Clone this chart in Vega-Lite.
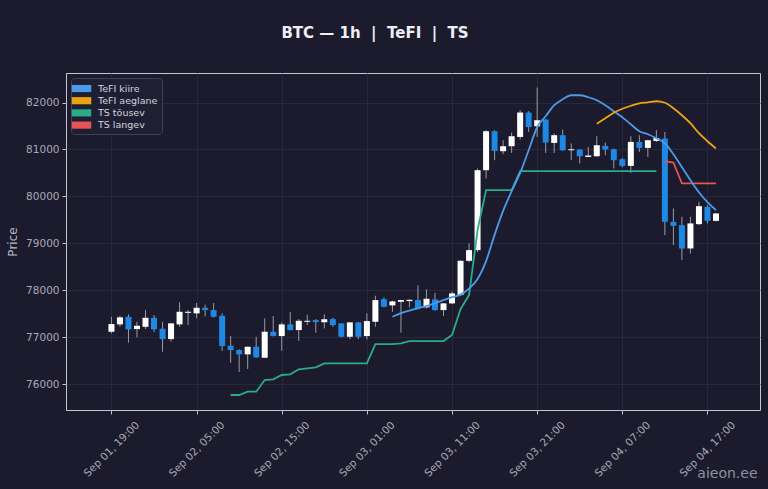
{
  "$schema": "https://vega.github.io/schema/vega-lite/v6.json",
  "autosize": "none",
  "width": 694,
  "height": 337,
  "padding": {"left": 66, "top": 73, "right": 8, "bottom": 79},
  "background": "#1b1b2d",
  "title": {
    "text": "BTC — 1h \u00a0|\u00a0 TeFI \u00a0|\u00a0 TS",
    "font": "DejaVu Sans",
    "fontSize": 15,
    "fontWeight": "bold",
    "color": "#eeeef4",
    "anchor": "middle",
    "dx": -38,
    "offset": 32
  },
  "config": {
    "font": "DejaVu Sans",
    "view": {"stroke": "#c4c4d2", "strokeWidth": 1, "fill": "#1b1b2d"},
    "axis": {
      "domain": false,
      "grid": true,
      "gridColor": "#2a2c40",
      "gridWidth": 0.8,
      "tickColor": "#c4c4d2",
      "tickSize": 4,
      "labelColor": "#a9a9b6",
      "labelFontSize": 10.5,
      "labelFont": "DejaVu Sans",
      "titleFont": "DejaVu Sans"
    },
    "legend": {
      "fillColor": "#1e1f33",
      "strokeColor": "#3f4152",
      "cornerRadius": 3,
      "padding": 4,
      "labelColor": "#d4d4dc",
      "labelFontSize": 9.5,
      "labelFont": "DejaVu Sans",
      "labelOffset": 10,
      "symbolType": "M-1.5,-0.55H1.5V0.55H-1.5Z",
      "symbolSize": 169,
      "symbolStrokeWidth": 0,
      "rowPadding": 1.2
    }
  },
  "datasets": {
    "candles": [
      {"t": "2025-09-01T19:00:00Z", "open": 77114, "high": 77433, "low": 77080, "close": 77278},
      {"t": "2025-09-01T20:00:00Z", "open": 77271, "high": 77455, "low": 77220, "close": 77421},
      {"t": "2025-09-01T21:00:00Z", "open": 77433, "high": 77484, "low": 76880, "close": 77165},
      {"t": "2025-09-01T22:00:00Z", "open": 77171, "high": 77327, "low": 76995, "close": 77242},
      {"t": "2025-09-01T23:00:00Z", "open": 77220, "high": 77576, "low": 77171, "close": 77412},
      {"t": "2025-09-02T00:00:00Z", "open": 77412, "high": 77470, "low": 77107, "close": 77165},
      {"t": "2025-09-02T01:00:00Z", "open": 77178, "high": 77327, "low": 76688, "close": 76958},
      {"t": "2025-09-02T02:00:00Z", "open": 76958, "high": 77300, "low": 76901, "close": 77293},
      {"t": "2025-09-02T03:00:00Z", "open": 77271, "high": 77740, "low": 77220, "close": 77540},
      {"t": "2025-09-02T04:00:00Z", "open": 77518, "high": 77576, "low": 77256, "close": 77540},
      {"t": "2025-09-02T05:00:00Z", "open": 77506, "high": 77725, "low": 77399, "close": 77625},
      {"t": "2025-09-02T06:00:00Z", "open": 77625, "high": 77689, "low": 77442, "close": 77576},
      {"t": "2025-09-02T07:00:00Z", "open": 77576, "high": 77725, "low": 77420, "close": 77433},
      {"t": "2025-09-02T08:00:00Z", "open": 77455, "high": 77506, "low": 76709, "close": 76809},
      {"t": "2025-09-02T09:00:00Z", "open": 76816, "high": 77022, "low": 76453, "close": 76724},
      {"t": "2025-09-02T10:00:00Z", "open": 76724, "high": 76740, "low": 76255, "close": 76632},
      {"t": "2025-09-02T11:00:00Z", "open": 76632, "high": 76800, "low": 76319, "close": 76794},
      {"t": "2025-09-02T12:00:00Z", "open": 76794, "high": 77007, "low": 76560, "close": 76568},
      {"t": "2025-09-02T13:00:00Z", "open": 76560, "high": 77399, "low": 76555, "close": 77114},
      {"t": "2025-09-02T14:00:00Z", "open": 77114, "high": 77448, "low": 77015, "close": 77022},
      {"t": "2025-09-02T15:00:00Z", "open": 77022, "high": 77314, "low": 76709, "close": 77271},
      {"t": "2025-09-02T16:00:00Z", "open": 77271, "high": 77533, "low": 77145, "close": 77150},
      {"t": "2025-09-02T17:00:00Z", "open": 77150, "high": 77384, "low": 76922, "close": 77348},
      {"t": "2025-09-02T18:00:00Z", "open": 77327, "high": 77476, "low": 77256, "close": 77348},
      {"t": "2025-09-02T19:00:00Z", "open": 77363, "high": 77384, "low": 77092, "close": 77320},
      {"t": "2025-09-02T20:00:00Z", "open": 77314, "high": 77484, "low": 77186, "close": 77378},
      {"t": "2025-09-02T21:00:00Z", "open": 77384, "high": 77412, "low": 77220, "close": 77256},
      {"t": "2025-09-02T22:00:00Z", "open": 77293, "high": 77300, "low": 76995, "close": 77007},
      {"t": "2025-09-02T23:00:00Z", "open": 77007, "high": 77320, "low": 76958, "close": 77314},
      {"t": "2025-09-03T00:00:00Z", "open": 77314, "high": 77320, "low": 76958, "close": 77007},
      {"t": "2025-09-03T01:00:00Z", "open": 77022, "high": 77506, "low": 76952, "close": 77342},
      {"t": "2025-09-03T02:00:00Z", "open": 77327, "high": 77881, "low": 77220, "close": 77789},
      {"t": "2025-09-03T03:00:00Z", "open": 77810, "high": 77847, "low": 77634, "close": 77646},
      {"t": "2025-09-03T04:00:00Z", "open": 77676, "high": 77774, "low": 77540, "close": 77761},
      {"t": "2025-09-03T05:00:00Z", "open": 77753, "high": 77795, "low": 77092, "close": 77789},
      {"t": "2025-09-03T06:00:00Z", "open": 77768, "high": 77804, "low": 77634, "close": 77795},
      {"t": "2025-09-03T07:00:00Z", "open": 77789, "high": 78102, "low": 77591, "close": 77612},
      {"t": "2025-09-03T08:00:00Z", "open": 77634, "high": 78017, "low": 77612, "close": 77817},
      {"t": "2025-09-03T09:00:00Z", "open": 77804, "high": 77944, "low": 77561, "close": 77576},
      {"t": "2025-09-03T10:00:00Z", "open": 77576, "high": 77725, "low": 77448, "close": 77719},
      {"t": "2025-09-03T11:00:00Z", "open": 77719, "high": 77974, "low": 77704, "close": 77932},
      {"t": "2025-09-03T12:00:00Z", "open": 77896, "high": 78640, "low": 77874, "close": 78626},
      {"t": "2025-09-03T13:00:00Z", "open": 78626, "high": 78997, "low": 78598, "close": 78854},
      {"t": "2025-09-03T14:00:00Z", "open": 78854, "high": 80594, "low": 78811, "close": 80558},
      {"t": "2025-09-03T15:00:00Z", "open": 80558, "high": 81410, "low": 80381, "close": 81389},
      {"t": "2025-09-03T16:00:00Z", "open": 81389, "high": 81410, "low": 80771, "close": 80969},
      {"t": "2025-09-03T17:00:00Z", "open": 80963, "high": 81197, "low": 80899, "close": 81069},
      {"t": "2025-09-03T18:00:00Z", "open": 81069, "high": 81361, "low": 80926, "close": 81282},
      {"t": "2025-09-03T19:00:00Z", "open": 81267, "high": 81836, "low": 81212, "close": 81787},
      {"t": "2025-09-03T20:00:00Z", "open": 81787, "high": 81815, "low": 81374, "close": 81480},
      {"t": "2025-09-03T21:00:00Z", "open": 81495, "high": 82320, "low": 81267, "close": 81623},
      {"t": "2025-09-03T22:00:00Z", "open": 81638, "high": 81645, "low": 80926, "close": 81148},
      {"t": "2025-09-03T23:00:00Z", "open": 81140, "high": 81340, "low": 80926, "close": 81304},
      {"t": "2025-09-04T00:00:00Z", "open": 81304, "high": 81425, "low": 80969, "close": 80984},
      {"t": "2025-09-04T01:00:00Z", "open": 80984, "high": 81127, "low": 80771, "close": 81005},
      {"t": "2025-09-04T02:00:00Z", "open": 80999, "high": 81005, "low": 80701, "close": 80856},
      {"t": "2025-09-04T03:00:00Z", "open": 80841, "high": 81054, "low": 80835, "close": 80871},
      {"t": "2025-09-04T04:00:00Z", "open": 80856, "high": 81282, "low": 80841, "close": 81090},
      {"t": "2025-09-04T05:00:00Z", "open": 81076, "high": 81148, "low": 80877, "close": 80999},
      {"t": "2025-09-04T06:00:00Z", "open": 81005, "high": 81020, "low": 80594, "close": 80771},
      {"t": "2025-09-04T07:00:00Z", "open": 80792, "high": 80820, "low": 80622, "close": 80650},
      {"t": "2025-09-04T08:00:00Z", "open": 80650, "high": 81282, "low": 80500, "close": 81161},
      {"t": "2025-09-04T09:00:00Z", "open": 81161, "high": 81304, "low": 80948, "close": 81033},
      {"t": "2025-09-04T10:00:00Z", "open": 81033, "high": 81205, "low": 80841, "close": 81197},
      {"t": "2025-09-04T11:00:00Z", "open": 81182, "high": 81410, "low": 81161, "close": 81246},
      {"t": "2025-09-04T12:00:00Z", "open": 81233, "high": 81374, "low": 79174, "close": 79457},
      {"t": "2025-09-04T13:00:00Z", "open": 79457, "high": 79742, "low": 78961, "close": 79372},
      {"t": "2025-09-04T14:00:00Z", "open": 79387, "high": 79563, "low": 78641, "close": 78890},
      {"t": "2025-09-04T15:00:00Z", "open": 78890, "high": 79563, "low": 78784, "close": 79423},
      {"t": "2025-09-04T16:00:00Z", "open": 79408, "high": 79883, "low": 79387, "close": 79791},
      {"t": "2025-09-04T17:00:00Z", "open": 79776, "high": 79812, "low": 79423, "close": 79478},
      {"t": "2025-09-04T18:00:00Z", "open": 79478, "high": 79648, "low": 79465, "close": 79636}
    ],
    "lines": [
      {"t": "2025-09-03T04:00:00Z", "s": "TeFI kiire", "v": 77433},
      {"t": "2025-09-03T05:00:00Z", "s": "TeFI kiire", "v": 77512},
      {"t": "2025-09-03T06:00:00Z", "s": "TeFI kiire", "v": 77565},
      {"t": "2025-09-03T07:00:00Z", "s": "TeFI kiire", "v": 77619},
      {"t": "2025-09-03T08:00:00Z", "s": "TeFI kiire", "v": 77661},
      {"t": "2025-09-03T09:00:00Z", "s": "TeFI kiire", "v": 77725},
      {"t": "2025-09-03T10:00:00Z", "s": "TeFI kiire", "v": 77789},
      {"t": "2025-09-03T11:00:00Z", "s": "TeFI kiire", "v": 77853},
      {"t": "2025-09-03T12:00:00Z", "s": "TeFI kiire", "v": 77906},
      {"t": "2025-09-03T13:00:00Z", "s": "TeFI kiire", "v": 78034},
      {"t": "2025-09-03T14:00:00Z", "s": "TeFI kiire", "v": 78240},
      {"t": "2025-09-03T15:00:00Z", "s": "TeFI kiire", "v": 78620},
      {"t": "2025-09-03T16:00:00Z", "s": "TeFI kiire", "v": 79180},
      {"t": "2025-09-03T17:00:00Z", "s": "TeFI kiire", "v": 79690},
      {"t": "2025-09-03T18:00:00Z", "s": "TeFI kiire", "v": 80110},
      {"t": "2025-09-03T19:00:00Z", "s": "TeFI kiire", "v": 80500},
      {"t": "2025-09-03T20:00:00Z", "s": "TeFI kiire", "v": 80984},
      {"t": "2025-09-03T21:00:00Z", "s": "TeFI kiire", "v": 81474},
      {"t": "2025-09-03T22:00:00Z", "s": "TeFI kiire", "v": 81708},
      {"t": "2025-09-03T23:00:00Z", "s": "TeFI kiire", "v": 81943},
      {"t": "2025-09-04T00:00:00Z", "s": "TeFI kiire", "v": 82070},
      {"t": "2025-09-04T01:00:00Z", "s": "TeFI kiire", "v": 82156},
      {"t": "2025-09-04T02:00:00Z", "s": "TeFI kiire", "v": 82156},
      {"t": "2025-09-04T03:00:00Z", "s": "TeFI kiire", "v": 82113},
      {"t": "2025-09-04T04:00:00Z", "s": "TeFI kiire", "v": 82049},
      {"t": "2025-09-04T05:00:00Z", "s": "TeFI kiire", "v": 81943},
      {"t": "2025-09-04T06:00:00Z", "s": "TeFI kiire", "v": 81815},
      {"t": "2025-09-04T07:00:00Z", "s": "TeFI kiire", "v": 81687},
      {"t": "2025-09-04T08:00:00Z", "s": "TeFI kiire", "v": 81538},
      {"t": "2025-09-04T09:00:00Z", "s": "TeFI kiire", "v": 81389},
      {"t": "2025-09-04T10:00:00Z", "s": "TeFI kiire", "v": 81325},
      {"t": "2025-09-04T11:00:00Z", "s": "TeFI kiire", "v": 81240},
      {"t": "2025-09-04T12:00:00Z", "s": "TeFI kiire", "v": 81133},
      {"t": "2025-09-04T13:00:00Z", "s": "TeFI kiire", "v": 80899},
      {"t": "2025-09-04T14:00:00Z", "s": "TeFI kiire", "v": 80622},
      {"t": "2025-09-04T15:00:00Z", "s": "TeFI kiire", "v": 80345},
      {"t": "2025-09-04T16:00:00Z", "s": "TeFI kiire", "v": 80089},
      {"t": "2025-09-04T17:00:00Z", "s": "TeFI kiire", "v": 79876},
      {"t": "2025-09-04T18:00:00Z", "s": "TeFI kiire", "v": 79706},
      {"t": "2025-09-04T04:00:00Z", "s": "TeFI aeglane", "v": 81548},
      {"t": "2025-09-04T05:00:00Z", "s": "TeFI aeglane", "v": 81666},
      {"t": "2025-09-04T06:00:00Z", "s": "TeFI aeglane", "v": 81783},
      {"t": "2025-09-04T07:00:00Z", "s": "TeFI aeglane", "v": 81868},
      {"t": "2025-09-04T08:00:00Z", "s": "TeFI aeglane", "v": 81932},
      {"t": "2025-09-04T09:00:00Z", "s": "TeFI aeglane", "v": 81985},
      {"t": "2025-09-04T10:00:00Z", "s": "TeFI aeglane", "v": 82006},
      {"t": "2025-09-04T11:00:00Z", "s": "TeFI aeglane", "v": 82028},
      {"t": "2025-09-04T12:00:00Z", "s": "TeFI aeglane", "v": 81996},
      {"t": "2025-09-04T13:00:00Z", "s": "TeFI aeglane", "v": 81879},
      {"t": "2025-09-04T14:00:00Z", "s": "TeFI aeglane", "v": 81730},
      {"t": "2025-09-04T15:00:00Z", "s": "TeFI aeglane", "v": 81559},
      {"t": "2025-09-04T16:00:00Z", "s": "TeFI aeglane", "v": 81346},
      {"t": "2025-09-04T17:00:00Z", "s": "TeFI aeglane", "v": 81176},
      {"t": "2025-09-04T18:00:00Z", "s": "TeFI aeglane", "v": 81020},
      {"t": "2025-09-02T09:00:00Z", "s": "TS tõusev", "v": 75766},
      {"t": "2025-09-02T10:00:00Z", "s": "TS tõusev", "v": 75766},
      {"t": "2025-09-02T11:00:00Z", "s": "TS tõusev", "v": 75836},
      {"t": "2025-09-02T12:00:00Z", "s": "TS tõusev", "v": 75836},
      {"t": "2025-09-02T13:00:00Z", "s": "TS tõusev", "v": 76085},
      {"t": "2025-09-02T14:00:00Z", "s": "TS tõusev", "v": 76100},
      {"t": "2025-09-02T15:00:00Z", "s": "TS tõusev", "v": 76192},
      {"t": "2025-09-02T16:00:00Z", "s": "TS tõusev", "v": 76206},
      {"t": "2025-09-02T17:00:00Z", "s": "TS tõusev", "v": 76313},
      {"t": "2025-09-02T18:00:00Z", "s": "TS tõusev", "v": 76334},
      {"t": "2025-09-02T19:00:00Z", "s": "TS tõusev", "v": 76356},
      {"t": "2025-09-02T20:00:00Z", "s": "TS tõusev", "v": 76441},
      {"t": "2025-09-02T21:00:00Z", "s": "TS tõusev", "v": 76441},
      {"t": "2025-09-02T22:00:00Z", "s": "TS tõusev", "v": 76441},
      {"t": "2025-09-02T23:00:00Z", "s": "TS tõusev", "v": 76441},
      {"t": "2025-09-03T00:00:00Z", "s": "TS tõusev", "v": 76441},
      {"t": "2025-09-03T01:00:00Z", "s": "TS tõusev", "v": 76441},
      {"t": "2025-09-03T02:00:00Z", "s": "TS tõusev", "v": 76852},
      {"t": "2025-09-03T03:00:00Z", "s": "TS tõusev", "v": 76852},
      {"t": "2025-09-03T04:00:00Z", "s": "TS tõusev", "v": 76852},
      {"t": "2025-09-03T05:00:00Z", "s": "TS tõusev", "v": 76867},
      {"t": "2025-09-03T06:00:00Z", "s": "TS tõusev", "v": 76916},
      {"t": "2025-09-03T07:00:00Z", "s": "TS tõusev", "v": 76916},
      {"t": "2025-09-03T08:00:00Z", "s": "TS tõusev", "v": 76916},
      {"t": "2025-09-03T09:00:00Z", "s": "TS tõusev", "v": 76916},
      {"t": "2025-09-03T10:00:00Z", "s": "TS tõusev", "v": 76916},
      {"t": "2025-09-03T11:00:00Z", "s": "TS tõusev", "v": 77044},
      {"t": "2025-09-03T12:00:00Z", "s": "TS tõusev", "v": 77597},
      {"t": "2025-09-03T13:00:00Z", "s": "TS tõusev", "v": 77896},
      {"t": "2025-09-03T14:00:00Z", "s": "TS tõusev", "v": 79280},
      {"t": "2025-09-03T15:00:00Z", "s": "TS tõusev", "v": 80132},
      {"t": "2025-09-03T16:00:00Z", "s": "TS tõusev", "v": 80132},
      {"t": "2025-09-03T17:00:00Z", "s": "TS tõusev", "v": 80132},
      {"t": "2025-09-03T18:00:00Z", "s": "TS tõusev", "v": 80132},
      {"t": "2025-09-03T19:00:00Z", "s": "TS tõusev", "v": 80537},
      {"t": "2025-09-03T20:00:00Z", "s": "TS tõusev", "v": 80537},
      {"t": "2025-09-03T21:00:00Z", "s": "TS tõusev", "v": 80537},
      {"t": "2025-09-03T22:00:00Z", "s": "TS tõusev", "v": 80537},
      {"t": "2025-09-03T23:00:00Z", "s": "TS tõusev", "v": 80537},
      {"t": "2025-09-04T00:00:00Z", "s": "TS tõusev", "v": 80537},
      {"t": "2025-09-04T01:00:00Z", "s": "TS tõusev", "v": 80537},
      {"t": "2025-09-04T02:00:00Z", "s": "TS tõusev", "v": 80537},
      {"t": "2025-09-04T03:00:00Z", "s": "TS tõusev", "v": 80537},
      {"t": "2025-09-04T04:00:00Z", "s": "TS tõusev", "v": 80537},
      {"t": "2025-09-04T05:00:00Z", "s": "TS tõusev", "v": 80537},
      {"t": "2025-09-04T06:00:00Z", "s": "TS tõusev", "v": 80537},
      {"t": "2025-09-04T07:00:00Z", "s": "TS tõusev", "v": 80537},
      {"t": "2025-09-04T08:00:00Z", "s": "TS tõusev", "v": 80537},
      {"t": "2025-09-04T09:00:00Z", "s": "TS tõusev", "v": 80537},
      {"t": "2025-09-04T10:00:00Z", "s": "TS tõusev", "v": 80537},
      {"t": "2025-09-04T11:00:00Z", "s": "TS tõusev", "v": 80537},
      {"t": "2025-09-04T12:00:00Z", "s": "TS langev", "v": 80750},
      {"t": "2025-09-04T13:00:00Z", "s": "TS langev", "v": 80722},
      {"t": "2025-09-04T14:00:00Z", "s": "TS langev", "v": 80275},
      {"t": "2025-09-04T15:00:00Z", "s": "TS langev", "v": 80275},
      {"t": "2025-09-04T16:00:00Z", "s": "TS langev", "v": 80275},
      {"t": "2025-09-04T17:00:00Z", "s": "TS langev", "v": 80275},
      {"t": "2025-09-04T18:00:00Z", "s": "TS langev", "v": 80275}
    ]
  },
  "encoding": {
    "x": {
      "field": "t",
      "type": "temporal",
      "scale": {"type": "utc", "domain": [1756736100000, 1757025300000], "nice": false},
      "axis": {
        "values": [1756753200000, 1756789200000, 1756825200000, 1756861200000, 1756897200000, 1756933200000, 1756969200000, 1757005200000],
        "format": "%b %d, %H:%M",
        "labelAngle": -45,
        "labelAlign": "center",
        "labelBaseline": "middle",
        "labelPadding": 35,
        "title": "aieon.ee",
        "titleColor": "#8f8fa0",
        "titleFontSize": 14,
        "titleFontWeight": "normal",
        "titleAlign": "right",
        "titleBaseline": "alphabetic",
        "titleAnchor": "end",
        "titleX": 691,
        "titleY": 67
      }
    }
  },
  "layer": [
    {
      "data": {"name": "candles"},
      "mark": {"type": "rule", "color": "#9a9aa6", "strokeWidth": 1},
      "encoding": {
        "y": {
          "field": "low",
          "type": "quantitative",
          "scale": {"domain": [75446, 82630], "nice": false, "zero": false},
          "axis": {
            "values": [76000, 77000, 78000, 79000, 80000, 81000, 82000],
            "format": "d",
            "title": "Price",
            "titleColor": "#b8b8c4",
            "titleFontSize": 12,
            "titleFontWeight": "normal",
            "titlePadding": 6,
            "labelPadding": 3
          }
        },
        "y2": {"field": "high"}
      }
    },
    {
      "data": {"name": "candles"},
      "mark": {"type": "bar", "size": 6},
      "encoding": {
        "y": {"field": "open", "type": "quantitative"},
        "y2": {"field": "close"},
        "color": {
          "condition": {"test": "datum.close < datum.open", "value": "#1e88e5"},
          "value": "#ffffff"
        }
      }
    },
    {
      "data": {"name": "lines"},
      "transform": [{"filter": "indexof(datum.s, 'TS') === 0"}],
      "mark": {"type": "line", "strokeWidth": 1.8},
      "encoding": {
        "y": {"field": "v", "type": "quantitative"},
        "color": {
          "field": "s",
          "type": "nominal",
          "scale": {
            "domain": ["TeFI kiire", "TeFI aeglane", "TS tõusev", "TS langev"],
            "range": ["#4c9be8", "#eea412", "#2bab8c", "#e85353"]
          },
          "legend": {
            "title": null,
            "orient": "top-left",
            "offset": 5,
            "encode": {"symbols": {"update": {"fill": {"scale": "color", "field": "value"}, "strokeWidth": {"value": 0}}}}
          }
        }
      }
    },
    {
      "data": {"name": "lines"},
      "transform": [{"filter": "indexof(datum.s, 'TeFI') === 0"}],
      "mark": {"type": "line", "strokeWidth": 1.8, "interpolate": "monotone"},
      "encoding": {
        "y": {"field": "v", "type": "quantitative"},
        "color": {"field": "s", "type": "nominal"}
      }
    }
  ]
}
